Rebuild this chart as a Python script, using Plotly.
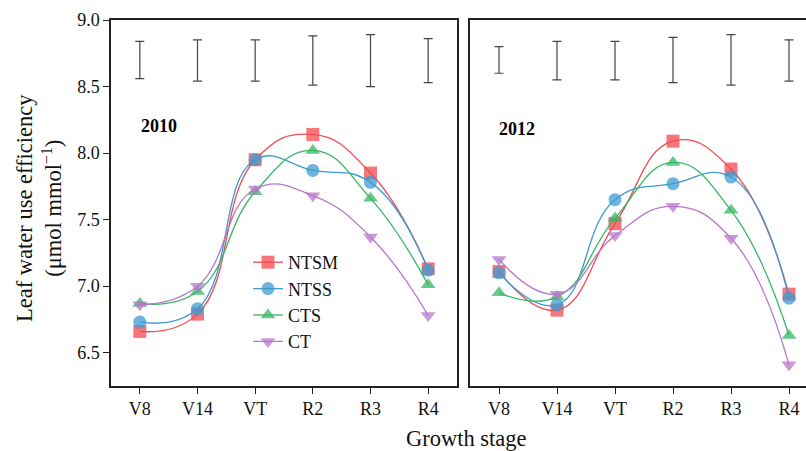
import plotly.graph_objects as go

stages = ["V8", "V14", "VT", "R2", "R3", "R4"]
series_names = ["NTSM", "NTSS", "CTS", "CT"]

wue_2010 = {
    "NTSM": [6.66, 6.79, 7.95, 8.14, 7.85, 7.13],
    "NTSS": [6.73, 6.83, 7.95, 7.87, 7.78, 7.12],
    "CTS":  [6.87, 6.96, 7.71, 8.02, 7.66, 7.01],
    "CT":   [6.86, 7.00, 7.73, 7.68, 7.37, 6.78],
}
wue_2012 = {
    "NTSM": [7.11, 6.82, 7.47, 8.09, 7.88, 6.94],
    "NTSS": [7.10, 6.86, 7.65, 7.77, 7.82, 6.91],
    "CTS":  [6.95, 6.92, 7.51, 7.93, 7.57, 6.63],
    "CT":   [7.20, 6.94, 7.38, 7.60, 7.36, 6.41],
}
# LSD-style error bars drawn at the top (low, high)
err_low_2010 = [8.56, 8.54, 8.54, 8.51, 8.50, 8.53]
err_high_2010 = [8.84, 8.85, 8.85, 8.88, 8.89, 8.86]
err_low_2012 = [8.60, 8.55, 8.55, 8.53, 8.51, 8.54]
err_high_2012 = [8.80, 8.84, 8.84, 8.87, 8.89, 8.85]

line_colors = {"NTSM": "#F24A50", "NTSS": "#3D9BD1", "CTS": "#36B763", "CT": "#B877CC"}
symbols = {"NTSM": "square", "NTSS": "circle", "CTS": "triangle-up", "CT": "triangle-down"}

FONT = "Liberation Serif"
xidx = list(range(len(stages)))

fig = go.Figure()

for data, xa, ya, legend in [(wue_2010, "x", "y", True), (wue_2012, "x2", "y2", False)]:
    for name in series_names:
        fig.add_trace(go.Scatter(
            x=xidx, y=data[name], xaxis=xa, yaxis=ya,
            mode="lines+markers", name=name, showlegend=legend,
            line=dict(color=line_colors[name], width=1.3, shape="spline", smoothing=1.3),
            marker=dict(symbol=symbols[name], size=13, color=line_colors[name], opacity=0.75,
                        line=dict(width=0)),
        ))

for lo, hi, xa, ya in [(err_low_2010, err_high_2010, "x", "y"), (err_low_2012, err_high_2012, "x2", "y2")]:
    mid = [(a + b) / 2 for a, b in zip(lo, hi)]
    half = [(b - a) / 2 for a, b in zip(lo, hi)]
    fig.add_trace(go.Scatter(
        x=xidx, y=mid, xaxis=xa, yaxis=ya, mode="markers", showlegend=False,
        marker=dict(size=1, opacity=0),
        error_y=dict(type="data", array=half, visible=True, color="#444444", thickness=1.2, width=4.5),
        hoverinfo="skip",
    ))

OFF = 0
W, H = 806, 451
ml, mr, mt, mb = 111, 0, 20, 65
pw = W - ml - mr
ph = H - mt - mb

def px_x(p):
    return (p - OFF - ml) / pw

def px_y(p):
    return (H - mb - (p - OFF)) / ph

axis_font = dict(family=FONT, size=18, color="#111")

fig.update_layout(
    width=W, height=H,
    margin=dict(l=ml, r=mr, t=mt, b=mb),
    paper_bgcolor="white", plot_bgcolor="white",
    font=dict(family=FONT, color="#111"),
    xaxis=dict(domain=[0, px_x(457)], range=[-0.5, 5.5], tickvals=xidx, ticktext=stages,
               showline=True, mirror=True, linecolor="#222", linewidth=1.5,
               ticks="outside", ticklen=6, tickcolor="#222", showgrid=False, zeroline=False,
               tickfont=axis_font),
    yaxis=dict(domain=[0, 1], range=[6.25, 9.0], tickvals=[6.5, 7.0, 7.5, 8.0, 8.5, 9.0],
               ticktext=["6.5", "7.0", "7.5", "8.0", "8.5", "9.0"],
               showline=True, mirror=True, linecolor="#222", linewidth=1.5,
               ticks="outside", ticklen=6, tickcolor="#222", showgrid=False, zeroline=False,
               tickfont=axis_font),
    xaxis2=dict(domain=[px_x(470), 1], range=[-0.5, (806 - 499) / 58.0], anchor="y2",
                tickvals=xidx, ticktext=stages, ticklabeloverflow="allow",
                showline=True, mirror=True, linecolor="#222", linewidth=1.5,
                ticks="outside", ticklen=6, tickcolor="#222", showgrid=False, zeroline=False,
                tickfont=axis_font),
    yaxis2=dict(domain=[0, 1], range=[6.25, 9.0], anchor="x2",
                showline=True, mirror=False, linecolor="#222", linewidth=1.5,
                ticks="", showticklabels=False, showgrid=False, zeroline=False),
    legend=dict(x=px_x(248), y=px_y(244), xanchor="left", yanchor="top",
                bgcolor="rgba(0,0,0,0)", font=dict(family=FONT, size=18, color="#111"),
                tracegroupgap=0, itemwidth=30),
    showlegend=True,
    annotations=[
        dict(text="<b>2010</b>", x=px_x(159), y=px_y(126), xref="paper", yref="paper",
             xanchor="center", yanchor="middle",
             showarrow=False, font=dict(family=FONT, size=18, color="#000")),
        dict(text="<b>2012</b>", x=px_x(517), y=px_y(129), xref="paper", yref="paper",
             xanchor="center", yanchor="middle",
             showarrow=False, font=dict(family=FONT, size=18, color="#000")),
        dict(text="Growth stage", x=px_x(466), y=px_y(438), xref="paper", yref="paper",
             xanchor="center", yanchor="middle",
             showarrow=False, font=dict(family=FONT, size=22.5, color="#111")),
        dict(text="Leaf water use efficiency<br>(μmol mmol<sup>−1</sup>)", textangle=-90,
             x=px_x(39), y=px_y(208), xref="paper", yref="paper", showarrow=False,
             xanchor="center", yanchor="middle",
             font=dict(family=FONT, size=22.5, color="#111")),
    ],
)

fig.write_html(
    "out.html",
    config={"displayModeBar": False},
    post_script="document.body.style.margin='0';document.body.style.overflow='hidden';",
)
